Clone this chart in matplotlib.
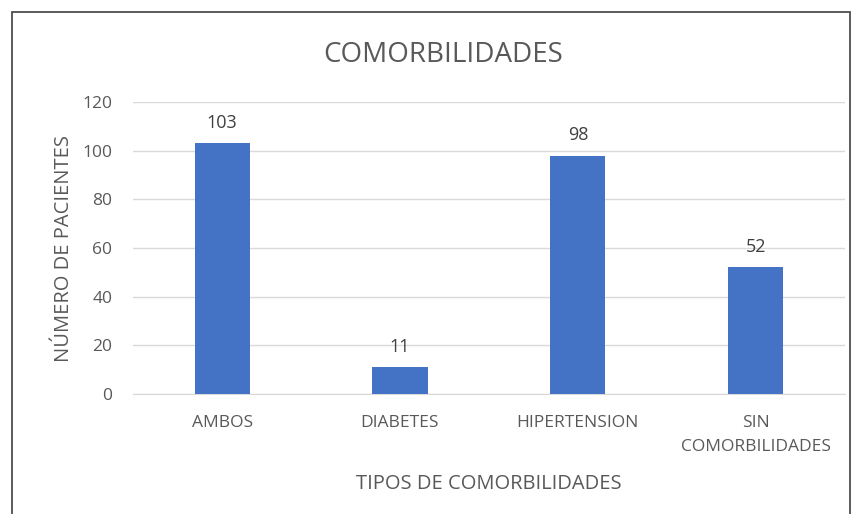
import matplotlib.pyplot as plt
from matplotlib.patches import Rectangle

categorias = ["AMBOS", "DIABETES", "HIPERTENSION", "SIN\nCOMORBILIDADES"]
pacientes = [103, 11, 98, 52]
ticks_y = [0, 20, 40, 60, 80, 100, 120]

plt.rcParams['font.family'] = ['Open Sans', 'DejaVu Sans']

fig = plt.figure(figsize=(8.54, 5.14), dpi=100)
ax = fig.add_axes([0.156, 0.2335, 0.833, 0.568])

# marco exterior de la figura
fig.patches.append(Rectangle((12 / 854, -0.05), 838 / 854, 1.05 - 12 / 514,
                             transform=fig.transFigure, fill=False,
                             edgecolor="#404040", linewidth=1.2))

x = range(len(categorias))
barras = ax.bar(x, pacientes, width=0.31, color="#4472C4", zorder=3)
ax.bar_label(barras, padding=8, fontsize=13, color="#404040")

ax.set_xlim(-0.5, 3.5)
ax.set_ylim(0, 120)
ax.set_yticks(ticks_y)
ax.set_xticks(list(x))
ax.set_xticklabels(categorias, linespacing=1.65)
ax.grid(axis="y", color="#d9d9d9", linewidth=1, zorder=0)
for lado in ["top", "right", "left"]:
    ax.spines[lado].set_visible(False)
ax.spines["bottom"].set_color("#d9d9d9")
ax.tick_params(length=0, colors="#595959", labelsize=12.5)
ax.tick_params(axis="y", pad=15)
ax.tick_params(axis="x", pad=15)

fig.text(443 / 854, 1 - 55 / 514, "COMORBILIDADES", fontsize=20,
         color="#595959", ha="center", va="center")
ax.set_xlabel("TIPOS DE COMORBILIDADES", fontsize=14.5, color="#595959", labelpad=14)
ax.set_ylabel("NÚMERO DE PACIENTES", fontsize=14.5, color="#595959", labelpad=6)

fig.savefig("out.png", dpi=100)
